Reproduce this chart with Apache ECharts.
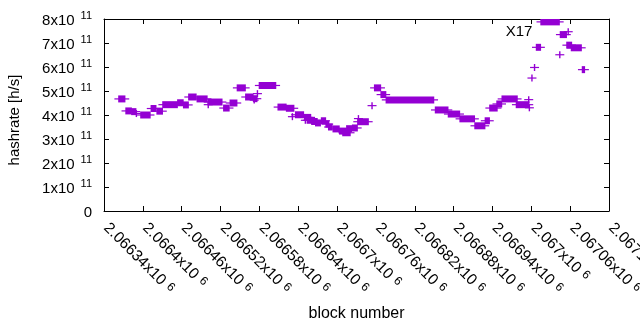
<!DOCTYPE html>
<html>
<head>
<meta charset="utf-8">
<title>hashrate</title>
<style>
  * { margin: 0; padding: 0; }
  body { background: #fff; }
  #chart { width: 640px; height: 330px; }
</style>
</head>
<body>
<div id="chart"></div>
<script src="https://cdn.jsdelivr.net/npm/echarts@6/dist/echarts.min.js"></script>
<script>
// runs of consecutive blocks that share one hashrate estimate
var runStart = [2066363, 2066374, 2066383, 2066390, 2066397, 2066413, 2066422, 2066431, 2066454, 2066463,
  2066471, 2066484, 2066501, 2066501, 2066525, 2066535, 2066546, 2066559, 2066571, 2066572,
  2066577, 2066580, 2066609, 2066622, 2066631, 2066636, 2066650, 2066651, 2066654, 2066661,
  2066667, 2066676, 2066683, 2066687, 2066694, 2066704, 2066709, 2066715, 2066724, 2066732,
  2066733, 2066754, 2066758, 2066768, 2066776, 2066852, 2066872, 2066890, 2066913, 2066929,
  2066936, 2066947, 2066955, 2066977, 2066996, 2066997, 2067001, 2067005, 2067008, 2067015,
  2067044, 2067045, 2067057, 2067055, 2067062, 2067079];
var runEnd = [2066372, 2066382, 2066389, 2066390, 2066411, 2066420, 2066430, 2066453, 2066462, 2066470,
  2066482, 2066499, 2066522, 2066501, 2066533, 2066545, 2066558, 2066570, 2066576, 2066572,
  2066577, 2066605, 2066621, 2066633, 2066631, 2066648, 2066659, 2066651, 2066661, 2066669,
  2066674, 2066682, 2066687, 2066692, 2066703, 2066713, 2066720, 2066722, 2066731, 2066748,
  2066733, 2066754, 2066767, 2066775, 2066849, 2066871, 2066889, 2066912, 2066928, 2066935,
  2066947, 2066954, 2066978, 2066996, 2066996, 2066997, 2067001, 2067005, 2067014, 2067043,
  2067044, 2067054, 2067057, 2067062, 2067077, 2067082];
var runHashrate = [4.67e11, 4.17e11, 4.14e11, 4.06e11, 4.00e11, 4.27e11, 4.16e11, 4.43e11, 4.51e11, 4.42e11,
  4.75e11, 4.67e11, 4.54e11, 4.43e11, 4.29e11, 4.50e11, 5.13e11, 4.75e11, 4.68e11, 4.62e11,
  4.89e11, 5.23e11, 4.33e11, 4.28e11, 3.93e11, 4.01e11, 3.90e11, 3.78e11, 3.78e11, 3.73e11,
  3.67e11, 3.76e11, 3.62e11, 3.50e11, 3.42e11, 3.33e11, 3.26e11, 3.43e11, 3.46e11, 3.72e11,
  3.85e11, 4.39e11, 5.13e11, 4.85e11, 4.63e11, 4.21e11, 4.04e11, 3.84e11, 3.55e11, 3.76e11,
  4.29e11, 4.46e11, 4.67e11, 4.43e11, 4.64e11, 4.30e11, 5.54e11, 5.98e11, 6.82e11, 7.88e11,
  6.51e11, 7.35e11, 7.47e11, 6.91e11, 6.80e11, 5.89e11];

var xTicks = [2066340, 2066400, 2066460, 2066520, 2066580, 2066640, 2066700,
  2066760, 2066820, 2066880, 2066940, 2067000, 2067060, 2067120];
var xTickLabels = ['2.06634x10^{6}', '2.0664x10^{6}', '2.06646x10^{6}', '2.06652x10^{6}',
  '2.06658x10^{6}', '2.06664x10^{6}', '2.0667x10^{6}', '2.06676x10^{6}', '2.06682x10^{6}',
  '2.06688x10^{6}', '2.06694x10^{6}', '2.067x10^{6}', '2.06706x10^{6}', '2.06712x10^{6}'];
var yTicks = [0, 1e11, 2e11, 3e11, 4e11, 5e11, 6e11, 7e11, 8e11];
var yTickLabels = ['0', '1x10^{11}', '2x10^{11}', '3x10^{11}', '4x10^{11}',
  '5x10^{11}', '6x10^{11}', '7x10^{11}', '8x10^{11}'];
var note = 'X17';

var purple = '#9400d3';
var font = 'Liberation Sans';

// gnuplot style "a^{b}" -> rich text
function sup(label) {
  var m = /^(.*)\^\{(.*)\}$/.exec(label);
  if (!m) return '{b|' + label + '}';
  return '{b|' + m[1] + '}{s|' + m[2] + '}';
}
var yRich = {
  b: { fontFamily: font, fontSize: 15, color: '#000', lineHeight: 18, verticalAlign: 'bottom' },
  s: { fontFamily: font, fontSize: 11, color: '#000', lineHeight: 18, verticalAlign: 'top', padding: [0, 0, 0, 6] }
};
var xRich = {
  b: { fontFamily: font, fontSize: 15.5, color: '#000', lineHeight: 18, verticalAlign: 'bottom', padding: [0, 0, 0, 4] },
  s: { fontFamily: font, fontSize: 12, color: '#000', lineHeight: 18, verticalAlign: 'top', padding: [2, 0, 0, 5] }
};

var runs = runStart.map(function (s, i) { return [s, runEnd[i], runHashrate[i]]; });

var chart = echarts.init(document.getElementById('chart'), null, { renderer: 'canvas' });
var xMin = xTicks[0], xMax = xTicks[xTicks.length - 1];
var frameX = {
  type: 'value', min: xMin, max: xMax, interval: xTicks[1] - xTicks[0],
  axisLine: { show: true, onZero: false, lineStyle: { color: '#000', width: 1 } },
  axisTick: { show: true, inside: true, length: 5, lineStyle: { color: '#000' } },
  splitLine: { show: false }
};
var frameY = {
  type: 'value', min: yTicks[0], max: yTicks[yTicks.length - 1], interval: yTicks[1] - yTicks[0],
  axisLine: { show: true, onZero: false, lineStyle: { color: '#000', width: 1 } },
  axisTick: { show: true, inside: true, length: 5, lineStyle: { color: '#000' } },
  splitLine: { show: false }
};

chart.setOption({
  animation: false,
  grid: { left: 104, top: 19, right: 31, bottom: 119, containLabel: false, outerBoundsMode: 'none' },
  xAxis: [
    Object.assign({}, frameX, {
      position: 'bottom',
      name: 'block number', nameLocation: 'middle', nameGap: 95,
      nameTextStyle: { fontFamily: font, fontSize: 16, color: '#000', verticalAlign: 'top' },
      axisLabel: {
        rotate: -45, margin: 11, hideOverlap: false,
        formatter: function (v) { var i = xTicks.indexOf(v); return i < 0 ? '' : sup(xTickLabels[i]); },
        rich: xRich
      }
    }),
    Object.assign({}, frameX, { position: 'top', axisLabel: { show: false } })
  ],
  yAxis: [
    Object.assign({}, frameY, {
      position: 'left',
      axisLabel: {
        margin: 12,
        formatter: function (v) { var i = yTicks.indexOf(v); return i < 0 ? '' : sup(yTickLabels[i]); },
        rich: yRich
      }
    }),
    Object.assign({}, frameY, { position: 'right', axisLabel: { show: false } })
  ],
  graphic: [
    {
      type: 'text', x: 15, y: 120, rotation: Math.PI / 2,
      style: { text: 'hashrate [h/s]', fontFamily: font, fontSize: 15, fill: '#000', align: 'center', verticalAlign: 'middle' }
    },
    {
      type: 'text', x: 519, y: 31.5,
      style: { text: note, fontFamily: font, fontSize: 15, fill: '#000', align: 'center', verticalAlign: 'middle' }
    }
  ],
  series: [{
    type: 'custom',
    clip: true,
    data: runs,
    encode: { x: [0, 1], y: 2 },
    renderItem: function (params, api) {
      var a = api.coord([api.value(0), api.value(2)]);
      var b = api.coord([api.value(1), api.value(2)]);
      return {
        type: 'group',
        children: [
          { type: 'rect', shape: { x: a[0] - 0.7, y: a[1] - 3.5, width: b[0] - a[0] + 1.4, height: 7 }, style: { fill: purple } },
          { type: 'line', shape: { x1: a[0] - 4.5, y1: a[1], x2: b[0] + 4.5, y2: b[1] }, style: { stroke: purple, lineWidth: 1.2 } }
        ]
      };
    }
  }]
});
</script>
</body>
</html>
